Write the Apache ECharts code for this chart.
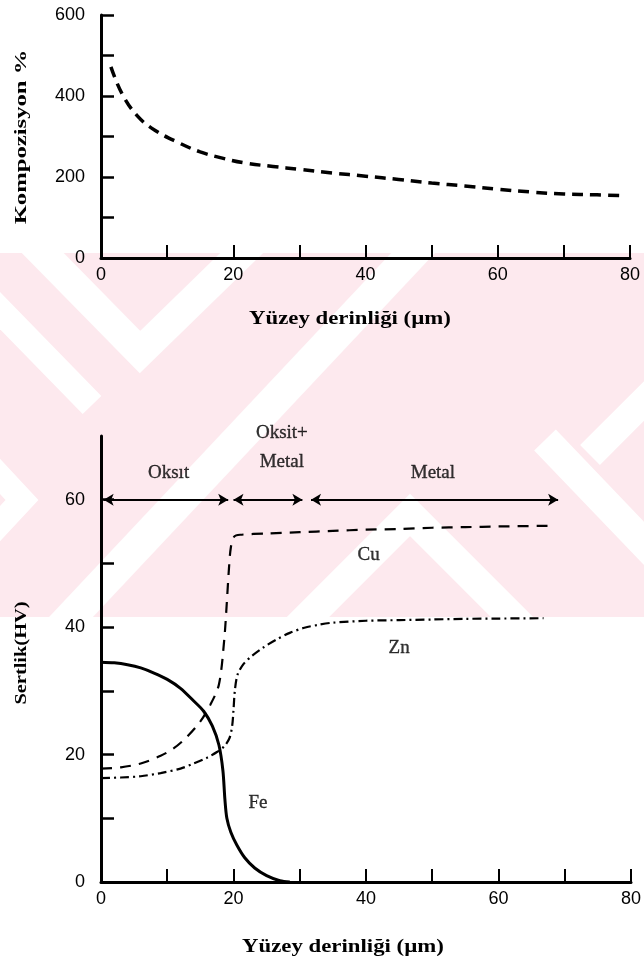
<!DOCTYPE html>
<html>
<head>
<meta charset="utf-8">
<script src="https://cdn.jsdelivr.net/npm/echarts@6/dist/echarts.min.js"></script>
<style>
  html, body { margin: 0; padding: 0; background: #ffffff; }
  #chart { width: 644px; height: 967px; }
</style>
</head>
<body>
<div id="chart"></div>
<script>
// Composition vs. surface depth (upper panel)
const depthTop = [1.5, 3.2, 5.6, 8.2, 11.7, 15, 18.5, 22, 26, 30, 35, 40, 45, 50, 55, 60, 65, 70, 75, 79];
const kompozisyon = [472, 405, 349, 315, 285, 262, 246, 234, 226, 219, 210, 202, 194, 185, 178, 170, 163, 158, 156, 154];

// Hardness profiles vs. surface depth (lower panel)
const depthFe = [0, 2, 4, 6, 8, 10, 12, 14, 15.5, 16.8, 17.8, 18.4, 18.7, 19, 19.6, 20.5, 21.7, 23.2, 25, 27, 28.5];
const hardFe  = [34.5, 34.4, 34.1, 33.6, 32.8, 31.8, 30.4, 28.4, 26.8, 24.5, 21.5, 17.5, 13, 10, 7.8, 5.8, 3.8, 2.2, 1, 0.2, 0];

const depthCu = [0, 3, 6, 9, 11, 13, 15, 16.5, 17.8, 18.6, 19, 19.3, 19.6, 20.1, 21, 25, 30, 35, 40, 45, 50, 55, 60, 67.4];
const hardCu  = [17.8, 18, 18.6, 19.8, 21, 22.8, 25.2, 27.8, 31, 38, 44, 49, 52.5, 54.2, 54.5, 54.7, 54.9, 55.1, 55.3, 55.4, 55.6, 55.7, 55.8, 55.9];

const depthZn = [0, 3, 6, 9, 12, 14, 16, 17.5, 18.6, 19.4, 19.8, 20, 20.2, 20.6, 21.5, 22.8, 24.5, 26.4, 28.5, 30.7, 33, 35, 40, 45, 50, 55, 60, 66.8];
const hardZn  = [16.3, 16.4, 16.6, 17.1, 17.8, 18.6, 19.5, 20.4, 21.3, 22.6, 24.5, 27, 30, 32.5, 34.2, 35.5, 36.8, 38, 39.1, 39.9, 40.4, 40.7, 41, 41.1, 41.2, 41.3, 41.35, 41.4];

// Layer zones drawn as double arrows at HV = 60
const zoneNames = ['Oksıt', 'Oksit+\nMetal', 'Metal'];
const zoneStart = [0.4, 20, 31.7];
const zoneEnd   = [19.2, 30.4, 69];
const zoneArrowLevel = 60;
const zoneLabelX = [10.2, 27.3, 50.1];
const zoneLabelY = [64.2, 68.2, 64.2];

// Curve names placed beside each profile
const curveNames = ['Cu', 'Zn', 'Fe'];
const curveLabelX = [40.4, 45, 23.7];
const curveLabelY = [51.3, 36.7, 12.4];

// Axis ticks and labels
const topXTicks = [0, 10, 20, 30, 40, 50, 60, 70, 80];
const topXLabels = [0, 20, 40, 60, 80];
const topYTicks = [0, 100, 200, 300, 400, 500, 600];
const topYLabels = [0, 200, 400, 600];
const botXTicks = [0, 10, 20, 30, 40, 50, 60, 70, 80];
const botXLabels = [0, 20, 40, 60, 80];
const botYTicks = [0, 10, 20, 30, 40, 50, 60];
const botYLabels = [0, 20, 40, 60];

const zip = (xs, ys) => xs.map((x, i) => [x, ys[i]]);

const INK = '#000000';
const tickFont = "'Liberation Sans Narrow', 'Liberation Sans', Arial, sans-serif";
const serif = "'Liberation Serif', 'DejaVu Serif', serif";

function xAxisCfg(gridIndex, ticks, labels) {
  return {
    type: 'value', gridIndex, min: 0, max: 80, interval: 10,
    axisLine: { show: true, lineStyle: { color: INK, width: 3 } },
    axisTick: { show: true, inside: true, length: 13, customValues: ticks, lineStyle: { color: INK, width: 2 } },
    axisLabel: { customValues: labels, color: INK, fontFamily: tickFont, fontSize: 18, margin: 8 },
    splitLine: { show: false }
  };
}
function yAxisCfg(gridIndex, max, interval, ticks, labels) {
  return {
    type: 'value', gridIndex, min: 0, max, interval,
    axisLine: { show: true, lineStyle: { color: INK, width: 3 } },
    axisTick: { show: true, inside: true, length: 13, customValues: ticks, lineStyle: { color: INK, width: 2.5 } },
    axisLabel: { customValues: labels, color: INK, fontFamily: tickFont, fontSize: 18, margin: 16 },
    splitLine: { show: false }
  };
}

// Light watermark band between the two panels
const PINK = '#fde9ee';
const stripe = (pts, w) => ({
  type: 'polyline', silent: true, z: -9,
  shape: { points: pts },
  style: { stroke: '#ffffff', lineWidth: w, fill: null, lineCap: 'butt', lineJoin: 'miter' }
});
const watermark = {
  type: 'group', silent: true, z: -10,
  clipPath: { type: 'rect', shape: { x: 0, y: 253, width: 644, height: 364 } },
  children: [
    { type: 'rect', z: -10, shape: { x: 0, y: 253, width: 644, height: 364 }, style: { fill: PINK } },
    stripe([[30, 240], [140, 352], [255, 240]], 30),
    stripe([[-20, 290], [92, 405]], 26),
    stripe([[40, 650], [430, 235]], 32),
    stripe([[-20, 455], [22, 500], [-20, 545]], 24),
    stripe([[285, 640], [410, 515], [535, 640]], 30),
    stripe([[545, 440], [660, 560]], 30),
    stripe([[590, 455], [680, 365]], 28)
  ]
};

const labelText = (size) => ({
  show: true, position: 'inside', formatter: p => p.name,
  color: INK, fontFamily: serif, fontSize: size, align: 'center', verticalAlign: 'middle',
  textBorderColor: INK, textBorderWidth: 0.35
});

const chart = echarts.init(document.getElementById('chart'), null, { renderer: 'canvas' });

chart.setOption({
  backgroundColor: '#ffffff',
  animation: false,
  grid: [
    { left: 101, top: 15, width: 529, height: 243 },
    { left: 101, top: 436, width: 540, height: 446 }
  ],
  xAxis: [
    xAxisCfg(0, topXTicks, topXLabels),
    xAxisCfg(1, botXTicks, botXLabels)
  ],
  yAxis: [
    yAxisCfg(0, 600, 100, topYTicks, topYLabels),
    yAxisCfg(1, 70, 10, botYTicks, botYLabels)
  ],
  graphic: [
    watermark,
    {
      type: 'text', x: 22, y: 137, rotation: Math.PI / 2, scaleX: 1.45,
      style: { text: 'Kompozisyon %', fill: INK, font: "bold 17px " + serif, align: 'center', verticalAlign: 'middle' }
    },
    {
      type: 'text', x: 22, y: 653, rotation: Math.PI / 2, scaleX: 1.2,
      style: { text: 'Sertlik(HV)', fill: INK, font: "bold 17px " + serif, align: 'center', verticalAlign: 'middle' }
    },
    {
      type: 'text', x: 350, y: 319, scaleX: 1.2,
      style: { text: 'Yüzey derinliği (µm)', fill: INK, font: "bold 19px " + serif, align: 'center', verticalAlign: 'middle' }
    },
    {
      type: 'text', x: 343, y: 947, scaleX: 1.2,
      style: { text: 'Yüzey derinliği (µm)', fill: INK, font: "bold 19px " + serif, align: 'center', verticalAlign: 'middle' }
    }
  ],
  series: [
    {
      name: 'Kompozisyon', type: 'line', xAxisIndex: 0, yAxisIndex: 0,
      data: zip(depthTop, kompozisyon), smooth: 0.4, showSymbol: false,
      lineStyle: { color: INK, width: 3.5, type: [11, 7] }
    },
    {
      name: 'Fe', type: 'line', xAxisIndex: 1, yAxisIndex: 1,
      data: zip(depthFe, hardFe), smooth: 0.3, showSymbol: false,
      lineStyle: { color: INK, width: 3 }
    },
    {
      name: 'Cu', type: 'line', xAxisIndex: 1, yAxisIndex: 1,
      data: zip(depthCu, hardCu), smooth: 0.3, showSymbol: false,
      lineStyle: { color: INK, width: 2.2, type: [11, 8] }
    },
    {
      name: 'Zn', type: 'line', xAxisIndex: 1, yAxisIndex: 1,
      data: zip(depthZn, hardZn), smooth: 0.3, showSymbol: false,
      lineStyle: { color: INK, width: 2.2, type: [9, 4, 2, 4] }
    },
    {
      name: 'Bölgeler', type: 'line', xAxisIndex: 1, yAxisIndex: 1, data: [],
      markLine: {
        silent: true, animation: false,
        symbol: ['arrow', 'arrow'], symbolSize: [9, 10],
        label: { show: false },
        lineStyle: { color: INK, width: 2.2, type: 'solid' },
        data: zoneStart.map((s, i) => [
          { coord: [s, zoneArrowLevel] },
          { coord: [zoneEnd[i], zoneArrowLevel] }
        ])
      }
    },
    {
      name: 'Bölge adları', type: 'scatter', xAxisIndex: 1, yAxisIndex: 1,
      symbolSize: 0, silent: true,
      data: zoneNames.map((n, i) => ({ value: [zoneLabelX[i], zoneLabelY[i]], name: n })),
      label: Object.assign(labelText(19), { lineHeight: 29 })
    },
    {
      name: 'Eğri adları', type: 'scatter', xAxisIndex: 1, yAxisIndex: 1,
      symbolSize: 0, silent: true,
      data: curveNames.map((n, i) => ({ value: [curveLabelX[i], curveLabelY[i]], name: n })),
      label: labelText(19)
    }
  ]
});
</script>
</body>
</html>
